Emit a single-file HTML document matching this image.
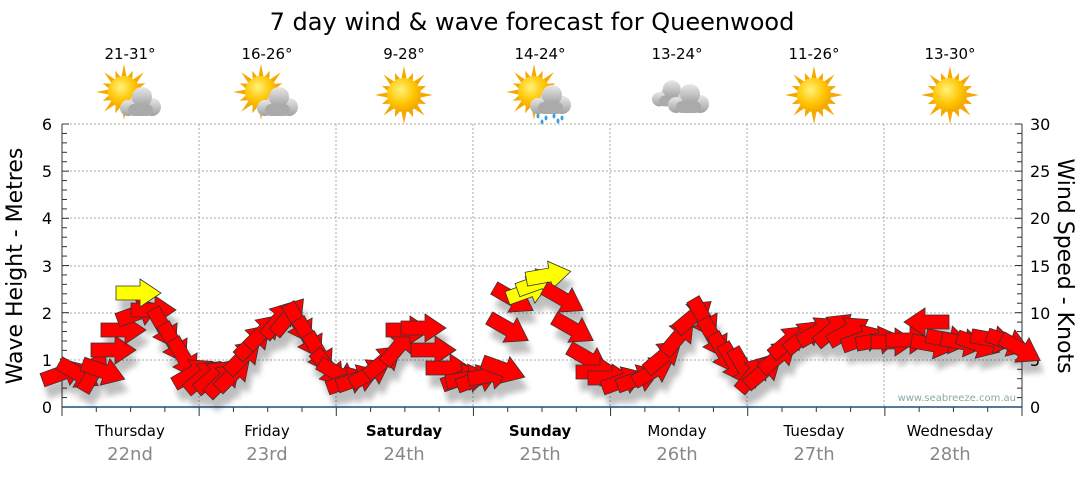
<!DOCTYPE html>
<html><head><meta charset="utf-8"><style>
body{margin:0;background:#fff;width:1080px;height:475px;overflow:hidden;font-family:"DejaVu Sans","Liberation Sans",sans-serif}
</style></head><body>
<svg id="s" width="1080" height="475" xmlns="http://www.w3.org/2000/svg" font-family="DejaVu Sans, Liberation Sans, sans-serif">
<defs>
<radialGradient id="sun" cx="0.4" cy="0.35" r="0.7"><stop offset="0" stop-color="#fff27a"/><stop offset="0.6" stop-color="#ffc400"/><stop offset="1" stop-color="#f0a000"/></radialGradient>
<linearGradient id="cl" x1="0" y1="0" x2="0" y2="1"><stop offset="0" stop-color="#e8e8e8"/><stop offset="1" stop-color="#a0a0a0"/></linearGradient>
<filter id="sh"><feGaussianBlur stdDeviation="3"/></filter>
</defs>
<text x="532" y="30" text-anchor="middle" font-size="24" fill="#000">7 day wind &amp; wave forecast for Queenwood</text>
<g font-size="15" text-anchor="middle" fill="#000">
<text x="130" y="59">21-31°</text><text x="267" y="59">16-26°</text><text x="404" y="59">9-28°</text><text x="540" y="59">14-24°</text><text x="677" y="59">13-24°</text><text x="814" y="59">11-26°</text><text x="950" y="59">13-30°</text>
</g>
<g id="icons"></g>
<g stroke="#aaa" stroke-dasharray="2,2" stroke-width="1">
<line x1="62" y1="124" x2="1022" y2="124"/><line x1="62" y1="171" x2="1022" y2="171"/><line x1="62" y1="218" x2="1022" y2="218"/><line x1="62" y1="266" x2="1022" y2="266"/><line x1="62" y1="313" x2="1022" y2="313"/><line x1="62" y1="360" x2="1022" y2="360"/>
<line x1="199" y1="124" x2="199" y2="407"/><line x1="336" y1="124" x2="336" y2="407"/><line x1="473" y1="124" x2="473" y2="407"/><line x1="610" y1="124" x2="610" y2="407"/><line x1="747" y1="124" x2="747" y2="407"/><line x1="884" y1="124" x2="884" y2="407"/>
</g>
<g stroke="#333" stroke-width="1"><line x1="62" y1="124" x2="62" y2="407"/><line x1="1022" y1="124" x2="1022" y2="407"/></g>
<g id="ticks" stroke="#333"></g>
<line x1="62" y1="407" x2="1022" y2="407" stroke="#1c4e7a" stroke-width="1.5"/>
<g font-size="16" fill="#000" text-anchor="end">
<text x="52" y="413">0</text><text x="52" y="366">1</text><text x="52" y="319">2</text><text x="52" y="272">3</text><text x="52" y="224">4</text><text x="52" y="177">5</text><text x="52" y="130">6</text>
</g>
<g font-size="16" fill="#000" text-anchor="start">
<text x="1030" y="413">0</text><text x="1030" y="366">5</text><text x="1030" y="319">10</text><text x="1030" y="272">15</text><text x="1030" y="224">20</text><text x="1030" y="177">25</text><text x="1030" y="130">30</text>
</g>
<text transform="translate(22,266) rotate(-90)" text-anchor="middle" font-size="22">Wave Height - Metres</text>
<text transform="translate(1058,266) rotate(90)" text-anchor="middle" font-size="22">Wind Speed - Knots</text>
<text x="1016" y="401" text-anchor="end" font-size="10" fill="#8aa">www.seabreeze.com.au</text>
<g font-size="15" text-anchor="middle" fill="#000">
<text x="130" y="436">Thursday</text><text x="267" y="436">Friday</text><text x="404" y="436" font-weight="bold">Saturday</text><text x="540" y="436" font-weight="bold">Sunday</text><text x="677" y="436">Monday</text><text x="814" y="436">Tuesday</text><text x="950" y="436">Wednesday</text>
</g>
<g font-size="18" text-anchor="middle" fill="#888">
<text x="130" y="460">22nd</text><text x="267" y="460">23rd</text><text x="404" y="460">24th</text><text x="540" y="460">25th</text><text x="677" y="460">26th</text><text x="814" y="460">27th</text><text x="950" y="460">28th</text>
</g>
<g id="shad" filter="url(#sh)" opacity="0.25"></g>
<g id="arr"></g>
</svg>
<script>
var NS="http://www.w3.org/2000/svg";
function el(t,a,p){var e=document.createElementNS(NS,t);for(var k in a)e.setAttribute(k,a[k]);p.appendChild(e);return e;}
var tk=document.getElementById('ticks');
for(var i=0;i<=30;i++){var y=407-i*283/30;el('line',{x1:62,y1:y,x2:i%5?67:69,y2:y},tk);el('line',{x1:1022,y1:y,x2:i%5?1017:1015,y2:y},tk);}
for(var i=0;i<=28;i++){var x=62+i*960/28;el('line',{x1:x,y1:407,x2:x,y2:i%4?412:416},tk);}
var ic=document.getElementById('icons');
function sun(cx,cy,r){var g=el('g',{},ic);for(var i=0;i<16;i++){var a=i*Math.PI/8,L=i%2?r+7:r+12;el('polygon',{points:(cx+Math.cos(a-0.15)*r)+','+(cy+Math.sin(a-0.15)*r)+' '+(cx+Math.cos(a)*L)+','+(cy+Math.sin(a)*L)+' '+(cx+Math.cos(a+0.15)*r)+','+(cy+Math.sin(a+0.15)*r),fill:'#f5a800'},g);}el('circle',{cx:cx,cy:cy,r:r,fill:'url(#sun)'},g);}
function cloud(cx,cy,s){var g=el('g',{},ic);[[0,4,11],[-12,8,8],[12,7,9],[2,-3,10]].forEach(function(c){el('circle',{cx:cx+c[0]*s,cy:cy+c[1]*s,r:c[2]*s,fill:'url(#cl)'},g);});el('rect',{x:cx-12*s,y:cy+4*s,width:25*s,height:12*s,rx:6*s,fill:'#aaa'},g);}
sun(124,92,16);cloud(140,100,1);
sun(261,92,16);cloud(277,100,1);
sun(404,95,17);
sun(534,92,16);cloud(550,98,1);
[[538,116],[546,118],[554,116],[562,118],[542,122],[558,121]].forEach(function(p){el('ellipse',{cx:p[0],cy:p[1],rx:1.5,ry:2.5,fill:'#3aa0e0'},ic);});
cloud(670,92,0.9);cloud(688,97,1);
sun(814,95,17);sun(950,95,17);
var D=[[65,372,-20],[80,375,30],[95,370,-60],[105,372,20],[115,350,0],[125,330,0],[140,312,-20],[155,310,0],[165,330,60],[175,345,60],[185,360,60],[195,372,-30],
[140,293,0,1],
[205,375,-40],[215,375,-40],[225,378,-45],[235,372,-45],[245,355,-45],[255,340,-45],[265,330,-45],[280,318,-50],[290,315,-50],[300,325,60],[310,340,60],[320,355,60],[330,370,50],
[340,375,30],[350,380,-20],[360,378,-20],[372,372,-30],[385,360,-40],[400,345,-50],[410,330,0],[425,328,0],[435,350,0],[450,368,0],[465,377,-20],[470,378,-10],
[480,378,-20],[492,375,-10],[505,370,20],[510,330,30],[515,300,30],[530,290,-20,1],[540,282,-20,1],[550,275,-10,1],[565,300,30],[575,330,30],[590,360,30],[600,372,0],[612,378,0],[625,380,-20],[640,378,-20],
[655,370,-30],[665,355,-40],[680,335,-50],[695,315,-40],[705,320,60],[715,340,60],[725,355,60],[735,365,60],[745,370,60],
[755,372,-50],[765,370,-40],[780,355,-40],[790,340,-40],[805,335,-40],[820,330,-30],[835,328,-40],[850,330,-30],[865,338,-20],[880,340,-10],
[895,342,0],[910,340,0],[925,322,180],[935,345,10],[950,340,10],[965,343,10],[980,345,20],[995,340,10],[1010,343,20],[1022,350,30]];
var A=document.getElementById('arr'),S=document.getElementById('shad');
var pts="-24,-7 0,-7 0,-14 21,0 0,14 0,7 -24,7";
D.forEach(function(d){var t='translate('+d[0]+','+d[1]+') rotate('+d[2]+')';
el('polygon',{points:pts,transform:'translate('+(d[0]+4)+','+(d[1]+12)+') rotate('+d[2]+')',fill:'#000'},S);
el('polygon',{points:pts,transform:t,fill:d[3]?'#ffff00':'#ff0000',stroke:'#333','stroke-width':0.8},A);});
</script>
</body></html>
